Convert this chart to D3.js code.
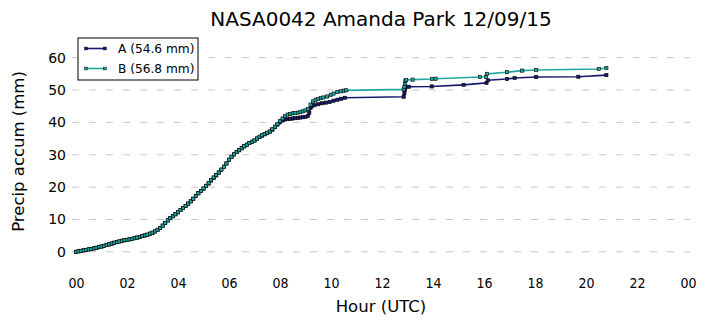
<!DOCTYPE html>
<html>
<head>
<meta charset="utf-8">
<script src="https://cdn.jsdelivr.net/npm/d3@7"></script>
<style>
  html, body { margin: 0; padding: 0; background: #fff; }
  svg { display: block; }
</style>
</head>
<body>
<svg id="chart" width="706" height="326"></svg>
<script>
// ---- Data ----
const titleText = "NASA0042 Amanda Park 12/09/15";
const seriesNames = ["A (54.6 mm)", "B (56.8 mm)"];
const xTickHours = [0, 2, 4, 6, 8, 10, 12, 14, 16, 18, 20, 22, 24];
const xTickLabels = ["00", "02", "04", "06", "08", "10", "12", "14", "16", "18", "20", "22", "00"];
const yTickValues = [0, 10, 20, 30, 40, 50, 60];

const hoursA = [
  0.0, 0.1, 0.2, 0.3, 0.4, 0.5, 0.6, 0.7, 0.8, 0.9,
  1.0, 1.1, 1.2, 1.3, 1.4, 1.5, 1.6, 1.7, 1.8, 1.9,
  2.0, 2.1, 2.2, 2.3, 2.4, 2.5, 2.6, 2.7, 2.8, 2.9,
  3.0, 3.1, 3.2, 3.3, 3.4, 3.5, 3.6, 3.7, 3.8, 3.9,
  4.0, 4.1, 4.2, 4.3, 4.4, 4.5, 4.6, 4.7, 4.8, 4.9,
  5.0, 5.1, 5.2, 5.3, 5.4, 5.5, 5.6, 5.7, 5.8, 5.9,
  6.0, 6.1, 6.2, 6.3, 6.4, 6.5, 6.6, 6.7, 6.8, 6.9,
  7.0, 7.1, 7.2, 7.3, 7.4, 7.5, 7.6, 7.7, 7.8, 7.9,
  8.0, 8.1, 8.2, 8.3, 8.4, 8.5, 8.6, 8.7, 8.8, 8.9,
  9.0, 9.1, 9.15, 9.2, 9.25, 9.35, 9.5, 9.65, 9.8, 9.95,
  10.1, 10.25, 10.4, 10.55,
  12.85, 12.88, 12.9, 12.92, 13.05, 13.95, 15.2, 16.1, 16.15,
  16.9, 17.2, 18.05, 19.7, 20.8
];
const precipA = [
  0.0, 0.15, 0.3, 0.45, 0.6, 0.75, 0.9, 1.05, 1.25, 1.45,
  1.65, 1.85, 2.1, 2.3, 2.55, 2.8, 3.0, 3.2, 3.4, 3.55,
  3.7, 3.85, 4.0, 4.2, 4.4, 4.6, 4.85, 5.05, 5.3, 5.6,
  5.9, 6.3, 6.8, 7.4, 8.1, 8.9, 9.7, 10.4, 11.0, 11.6,
  12.2, 12.9, 13.5, 14.2, 14.9, 15.6, 16.4, 17.3, 18.1, 18.8,
  19.5, 20.3, 21.1, 22.0, 22.8, 23.6, 24.5, 25.4, 26.3, 27.3,
  28.4, 29.3, 30.1, 30.8, 31.4, 32.0, 32.6, 33.1, 33.6, 34.0,
  34.4, 35.0, 35.5, 35.9, 36.3, 36.7, 37.1, 37.7, 38.5, 39.3,
  40.0, 40.6, 40.9, 41.0, 41.1, 41.2, 41.3, 41.4, 41.5, 41.6,
  41.7, 42.0, 43.0, 44.5, 45.0, 45.3, 45.6, 45.9, 46.1, 46.3,
  46.7, 47.0, 47.3, 47.6,
  47.9, 49.0, 50.0, 50.9, 51.0, 51.1, 51.6, 52.2, 53.0,
  53.4, 53.7, 54.0, 54.1, 54.6
];

const hoursB = [
  0.0, 0.1, 0.2, 0.3, 0.4, 0.5, 0.6, 0.7, 0.8, 0.9,
  1.0, 1.1, 1.2, 1.3, 1.4, 1.5, 1.6, 1.7, 1.8, 1.9,
  2.0, 2.1, 2.2, 2.3, 2.4, 2.5, 2.6, 2.7, 2.8, 2.9,
  3.0, 3.1, 3.2, 3.3, 3.4, 3.5, 3.6, 3.7, 3.8, 3.9,
  4.0, 4.1, 4.2, 4.3, 4.4, 4.5, 4.6, 4.7, 4.8, 4.9,
  5.0, 5.1, 5.2, 5.3, 5.4, 5.5, 5.6, 5.7, 5.8, 5.9,
  6.0, 6.1, 6.2, 6.3, 6.4, 6.5, 6.6, 6.7, 6.8, 6.9,
  7.0, 7.1, 7.2, 7.3, 7.4, 7.5, 7.6, 7.7, 7.8, 7.9,
  8.0, 8.1, 8.2, 8.3, 8.4, 8.5, 8.6, 8.7, 8.8, 8.9,
  9.0, 9.1, 9.2, 9.3, 9.4, 9.5, 9.6, 9.7, 9.85, 10.0,
  10.1, 10.25, 10.4, 10.5, 10.6,
  12.85, 12.88, 12.9, 12.92, 12.95, 13.2, 13.96, 14.1, 15.84, 16.08, 16.12,
  16.9, 17.5, 18.05, 20.5, 20.8
];
const precipB = [
  0.0, 0.15, 0.3, 0.45, 0.6, 0.75, 0.9, 1.05, 1.25, 1.45,
  1.65, 1.85, 2.1, 2.3, 2.55, 2.8, 3.0, 3.2, 3.4, 3.6,
  3.7, 3.85, 4.0, 4.2, 4.4, 4.6, 4.85, 5.05, 5.3, 5.6,
  5.9, 6.3, 6.8, 7.4, 8.1, 8.9, 9.7, 10.4, 11.0, 11.6,
  12.2, 12.9, 13.5, 14.2, 14.9, 15.6, 16.4, 17.3, 18.1, 18.8,
  19.6, 20.4, 21.2, 22.2, 23.0, 23.7, 24.5, 25.4, 26.3, 27.3,
  28.5, 29.4, 30.1, 30.8, 31.4, 32.0, 32.6, 33.1, 33.6, 34.0,
  34.4, 35.0, 35.6, 36.0, 36.4, 36.8, 37.2, 37.9, 38.7, 39.5,
  40.4, 41.2, 41.9, 42.4, 42.6, 42.8, 42.9, 43.0, 43.2, 43.4,
  43.7, 44.1, 45.5, 46.5, 47.0, 47.2, 47.5, 47.7, 48.0, 48.5,
  48.9, 49.4, 49.6, 49.8, 49.9,
  50.2, 51.0, 52.0, 52.8, 53.1, 53.2, 53.4, 53.5, 54.0, 54.1, 55.0,
  55.5, 56.0, 56.2, 56.5, 56.8
];

const colorA = "#191970";
const colorB = "#20a8a0";

// ---- Build ----
const svg = d3.select("#chart");
const plot = { left: 72, right: 690, top: 35, bottom: 268 };

const x = d3.scaleLinear().domain([-0.157, 24.08]).range([plot.left, plot.right]);
const y = d3.scaleLinear().domain([-5, 67]).range([plot.bottom, plot.top]);

// Grid lines (dashed, horizontal)
svg.append("g")
  .selectAll("line")
  .data(yTickValues)
  .join("line")
  .attr("x1", plot.left).attr("x2", plot.right)
  .attr("y1", d => y(d)).attr("y2", d => y(d))
  .attr("stroke", "#c8c8c8")
  .attr("stroke-width", 1)
  .attr("stroke-dasharray", "7,10");

// Y axis (labels only)
const yAxis = svg.append("g")
  .attr("transform", `translate(${plot.left},0)`)
  .call(d3.axisLeft(y).tickValues(yTickValues).tickSize(0).tickPadding(6).tickFormat(d3.format("d")));
yAxis.select(".domain").remove();
yAxis.selectAll("text")
  .attr("font-family", "DejaVu Sans")
  .attr("font-size", 14)
  .attr("fill", "#000");

// X axis (labels only)
const xAxis = svg.append("g")
  .attr("transform", `translate(0,${plot.bottom})`)
  .call(d3.axisBottom(x).tickValues(xTickHours).tickSize(0).tickPadding(10)
    .tickFormat((d, i) => xTickLabels[i]));
xAxis.select(".domain").remove();
xAxis.selectAll("text")
  .attr("font-family", "DejaVu Sans Condensed, DejaVu Sans")
  .attr("font-size", 14)
  .attr("fill", "#000");

// Series
const seriesList = [
  { name: seriesNames[0], color: colorA, data: hoursA.map((h, i) => [h, precipA[i]]) },
  { name: seriesNames[1], color: colorB, data: hoursB.map((h, i) => [h, precipB[i]]) }
];

const line = d3.line().x(d => x(d[0])).y(d => y(d[1]));
const ms = 3.2;

seriesList.forEach(s => {
  const g = svg.append("g");
  g.append("path")
    .datum(s.data)
    .attr("d", line)
    .attr("fill", "none")
    .attr("stroke", s.color)
    .attr("stroke-width", 1.6)
    .attr("stroke-linejoin", "round");
  g.selectAll("rect")
    .data(s.data)
    .join("rect")
    .attr("x", d => x(d[0]) - ms / 2)
    .attr("y", d => y(d[1]) - ms / 2)
    .attr("width", ms).attr("height", ms)
    .attr("fill", s.color)
    .attr("stroke", "#000")
    .attr("stroke-width", 0.6);
});

// Legend
const legend = svg.append("g").attr("transform", "translate(78,38)");
legend.append("rect")
  .attr("x", 0).attr("y", 0).attr("width", 120).attr("height", 42)
  .attr("fill", "#fff").attr("stroke", "#000").attr("stroke-width", 1);
seriesList.forEach((s, i) => {
  const yy = 10.5 + i * 20;
  legend.append("line")
    .attr("x1", 8).attr("x2", 27).attr("y1", yy).attr("y2", yy)
    .attr("stroke", s.color).attr("stroke-width", 1.6);
  [8, 27].forEach(px => {
    legend.append("rect")
      .attr("x", px - 1.4).attr("y", yy - 1.4)
      .attr("width", 2.8).attr("height", 2.8)
      .attr("fill", s.color).attr("stroke", "#000").attr("stroke-width", 0.5);
  });
  legend.append("text")
    .attr("x", 40).attr("y", yy)
    .attr("dy", "0.36em")
    .attr("font-family", "DejaVu Sans")
    .attr("font-size", 12.2)
    .text(s.name);
});

// Title
svg.append("text")
  .attr("x", (plot.left + plot.right) / 2).attr("y", 26)
  .attr("text-anchor", "middle")
  .attr("font-family", "DejaVu Sans")
  .attr("font-size", 20)
  .text(titleText);

// Axis labels
svg.append("text")
  .attr("x", (plot.left + plot.right) / 2).attr("y", 312)
  .attr("text-anchor", "middle")
  .attr("font-family", "DejaVu Sans")
  .attr("font-size", 16.5)
  .text("Hour (UTC)");

svg.append("text")
  .attr("transform", `translate(24,${(plot.top + plot.bottom) / 2}) rotate(-90)`)
  .attr("text-anchor", "middle")
  .attr("font-family", "DejaVu Sans")
  .attr("font-size", 16.5)
  .text("Precip accum (mm)");
</script>
</body>
</html>
